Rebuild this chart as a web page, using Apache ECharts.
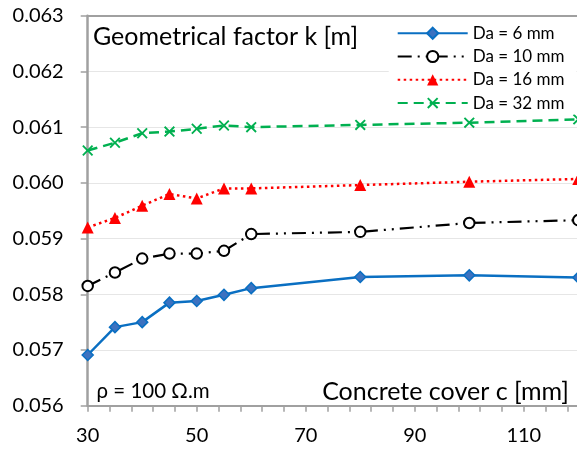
<!DOCTYPE html>
<html>
<head>
<meta charset="utf-8">
<title>Geometrical factor k vs concrete cover</title>
<script src="https://cdn.jsdelivr.net/npm/echarts@6/dist/echarts.min.js"></script>
<style>
  html, body { margin: 0; padding: 0; background: #fff; }
  #chart { width: 577px; height: 450px; }
</style>
</head>
<body>
<div id="chart"></div>
<script>
// Concrete cover c [mm]
const cover = [30, 35, 40, 45, 50, 55, 60, 80, 100, 120];

// Geometrical factor k [m] for each aggregate size Da
const kDa6  = [0.05691, 0.05741, 0.05750, 0.05785, 0.05788, 0.05799, 0.05811, 0.05831, 0.05834, 0.05830];
const kDa10 = [0.05815, 0.05839, 0.05864, 0.05873, 0.05873, 0.05878, 0.05908, 0.05912, 0.05928, 0.05933];
const kDa16 = [0.05920, 0.05937, 0.05959, 0.05980, 0.05972, 0.05990, 0.05990, 0.05996, 0.06002, 0.06007];
const kDa32 = [0.06058, 0.06072, 0.06089, 0.06092, 0.06097, 0.06103, 0.06100, 0.06104, 0.06108, 0.06114];

const seriesNames = ['Da = 6 mm', 'Da = 10 mm', 'Da = 16 mm', 'Da = 32 mm'];

// Axis settings
const xMin = 30, xMax = 130, xStep = 20;
const yMin = 0.056, yMax = 0.063, yStep = 0.001;

const FONT = 'Lato';
const AXIS_GRAY = '#a0a0a0';

const pairs = (ys) => cover.map((x, i) => [x, ys[i]]);

const crossPath = 'path://M0,1.2 L1.2,0 L5,3.8 L8.8,0 L10,1.2 L6.2,5 L10,8.8 L8.8,10 L5,6.2 L1.2,10 L0,8.8 L3.8,5 Z';

const chart = echarts.init(document.getElementById('chart'), null, { renderer: 'canvas' });

chart.setOption({
  animation: false,
  backgroundColor: '#ffffff',
  textStyle: { fontFamily: FONT },
  // plot area runs past the right edge of the canvas (x = 130 lies outside)
  grid: { left: 87.7, top: 15.7, width: 545.1, height: 390, containLabel: false, outerBoundsMode: 'none' },
  xAxis: [{
    type: 'value',
    min: xMin, max: xMax, interval: xStep,
    axisLine: { show: true, onZero: false, lineStyle: { color: AXIS_GRAY, width: 2 } },
    axisTick: { show: true, length: 6, lineStyle: { color: AXIS_GRAY, width: 1.5 } },
    minorTick: { show: true, splitNumber: 5, length: 6, lineStyle: { color: AXIS_GRAY, width: 1.5 } },
    splitLine: { show: false },
    axisLabel: { margin: 20, fontSize: 20, color: '#000', fontFamily: FONT, showMaxLabel: false }
  }, {
    // top frame line of the plot area
    type: 'value', position: 'top',
    min: xMin, max: xMax, interval: xStep,
    axisLine: { show: true, onZero: false, lineStyle: { color: AXIS_GRAY, width: 2 } },
    axisTick: { show: false }, axisLabel: { show: false }, splitLine: { show: false }
  }],
  yAxis: {
    type: 'value',
    min: yMin, max: yMax, interval: yStep,
    axisLine: { show: true, onZero: false, lineStyle: { color: AXIS_GRAY, width: 2.5 } },
    axisTick: { show: true, length: 7, lineStyle: { color: AXIS_GRAY, width: 1.5 } },
    splitLine: { show: true, lineStyle: { color: '#e6e6e6', width: 1 } },
    axisLabel: {
      margin: 24, fontSize: 20, color: '#000', fontFamily: FONT,
      formatter: (v) => v.toFixed(3)
    }
  },
  legend: {
    orient: 'vertical',
    left: 388.7, top: 21.7,
    padding: [3, 12, 3, 8],
    backgroundColor: '#ffffff',
    itemWidth: 70, itemHeight: 14, itemGap: 6.3,
    textStyle: { fontSize: 17, color: '#000', fontFamily: FONT },
    data: seriesNames
  },
  graphic: [
    {
      type: 'text', left: 93, top: 24, z: 10,
      style: { text: 'Geometrical factor k [m]', fontSize: 25, fontFamily: FONT, fill: '#000' }
    },
    {
      type: 'text', right: 8, top: 379, z: 10,
      style: { text: 'Concrete cover c [mm]', fontSize: 25, fontFamily: FONT, fill: '#000' }
    },
    {
      type: 'text', left: 96.5, top: 381, z: 10,
      style: { text: 'ρ = 100 Ω.m', fontSize: 20.5, fontFamily: FONT, fill: '#000' }
    }
  ],
  series: [
    {
      name: seriesNames[0], type: 'line', data: pairs(kDa6),
      symbol: 'diamond', symbolSize: 11,
      lineStyle: { color: '#0a6fc2', width: 2.5, type: 'solid' },
      itemStyle: { color: '#3c72c0', borderColor: '#0a6fc2', borderWidth: 1.5 },
      z: 4
    },
    {
      name: seriesNames[1], type: 'line', data: pairs(kDa10),
      symbol: 'emptyCircle', symbolSize: 10.5,
      lineStyle: { color: '#000', width: 2.2, type: [14, 6, 2, 6, 2, 6] },
      itemStyle: { color: '#000', borderColor: '#000', borderWidth: 2.5 },
      z: 3
    },
    {
      name: seriesNames[2], type: 'line', data: pairs(kDa16),
      symbol: 'triangle', symbolSize: 12,
      lineStyle: { color: '#ff0000', width: 2.5, type: [2.5, 3.5] },
      itemStyle: { color: '#ff0000' },
      z: 2
    },
    {
      name: seriesNames[3], type: 'line', data: pairs(kDa32),
      symbol: crossPath, symbolSize: 11,
      lineStyle: { color: '#00b050', width: 2.5, type: [10, 6] },
      itemStyle: { color: '#00b050' },
      z: 1
    }
  ]
});
</script>
</body>
</html>
